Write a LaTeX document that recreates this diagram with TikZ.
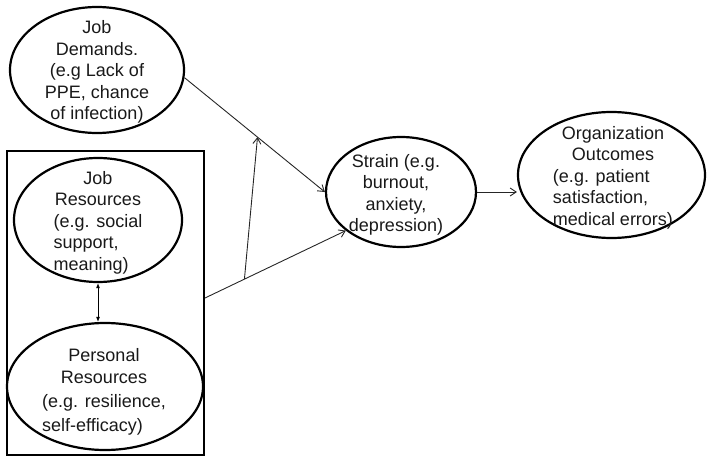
\documentclass[tikz,border=0pt]{standalone}
\usepackage{fontspec}
\setmainfont{Liberation Sans}
\usetikzlibrary{arrows.meta,shapes.geometric,calc}
\begin{document}
\begin{tikzpicture}[x=1pt,y=-1pt,
  oval/.style={draw=black,ellipse,line width=2.2pt,inner sep=0pt},
  txt/.style={inner sep=0pt,align=center,font=\fontsize{18}{21.5}\selectfont,text=black!90},
  conn/.style={draw=black!85,line width=0.9pt,-{Straight Barb[length=6pt,width=8pt]}},
  dbl/.style={draw=black,line width=0.9pt,{Latex[length=5pt,width=4pt]}-{Latex[length=5pt,width=4pt]}}
]
\useasboundingbox (0,0) rectangle (709,465);
% outer box
\node[draw=black,line width=2pt,minimum width=197pt,minimum height=304pt,inner sep=0pt] (box) at (105.5,303) {};
% ellipses
\node[oval,minimum width=174pt,minimum height=126pt] (jd) at (97,70) {};
\node[oval,minimum width=168pt,minimum height=124pt] (jr) at (98,220) {};
\node[oval,minimum width=196pt,minimum height=127pt] (pr) at (105,386.5) {};
\node[oval,minimum width=150pt,minimum height=110pt] (st) at (401,192) {};
\node[oval,minimum width=187pt,minimum height=126pt] (oo) at (611.5,175) {};
% texts
\node[txt] (jdt) at (97,72) {Job\\Demands.\\(e.g Lack of\\PPE, chance\\of infection)};
\node[txt] (jrt) at (98,223) {\begin{tabular}{@{}l@{}}\multicolumn{1}{@{}c@{}}{Job}\\\multicolumn{1}{@{}c@{}}{Resources}\\(e.g. social\\support,\\meaning)\end{tabular}};
\node[txt] (prt) at (104,392) {\begin{tabular}{@{}l@{}}\multicolumn{1}{@{}c@{}}{Personal}\\\multicolumn{1}{@{}c@{}}{Resources}\\[3pt](e.g. resilience,\\[2pt]self-efficacy)\end{tabular}};
\node[txt] (stt) at (396,195) {Strain (e.g.\\burnout,\\anxiety,\\depression)};
\node[txt] (oot) at (613,178) {\begin{tabular}{@{}l@{}}\multicolumn{1}{@{}c@{}}{Organization}\\\multicolumn{1}{@{}c@{}}{Outcomes}\\(e.g. patient\\satisfaction,\\medical errors)\end{tabular}};
% connectors
\coordinate (jds) at (jd.-5);
\coordinate (bxs) at ([yshift=5pt]box.east);
\coordinate (ste) at (st.215);
\draw[conn] (jds) -- (st.west);
\draw[conn] (bxs) -- (ste);
\coordinate (m1) at ($(bxs)!0.28!(ste)$);
\coordinate (m2) at ($(jds)!0.52!(st.west)$);
\draw[conn] (m1) -- (m2);
\draw[conn] (st.east) -- (st.east -| oo.west);
\draw[dbl] (jr.south) -- (jr.south |- pr.north);
\end{tikzpicture}
\end{document}
